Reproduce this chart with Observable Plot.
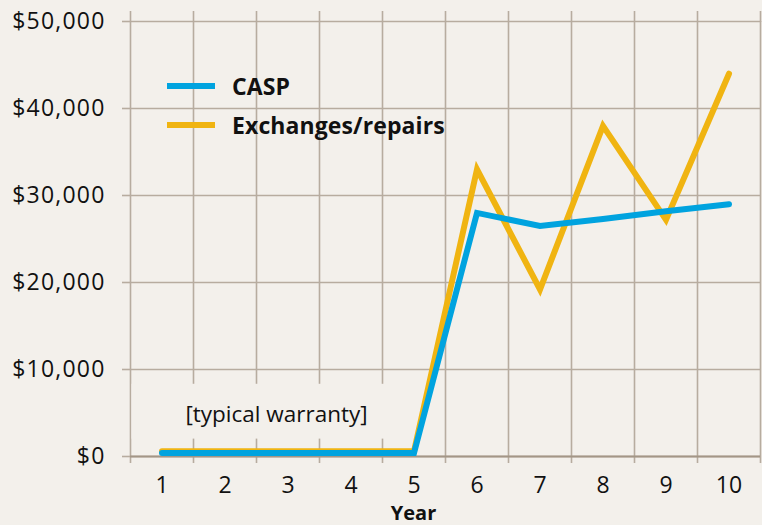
<!DOCTYPE html>
<html>
<head>
<meta charset="utf-8">
<script src="https://cdn.jsdelivr.net/npm/d3@7"></script>
<script src="https://cdn.jsdelivr.net/npm/@observablehq/plot@0.6"></script>
<style>
  html, body { margin: 0; padding: 0; background: #f3f0eb; }
  #wrap { position: relative; width: 762px; height: 525px; font-family: "Open Sans", sans-serif; }
  #legend { position: absolute; left: 167px; top: 66px; }
  .item { display: flex; align-items: center; height: 39px; }
  .swatch { width: 48px; height: 6px; margin-right: 17px; }
  .lab { font-weight: bold; font-size: 23px; color: #111; letter-spacing: 0.1px; }
  [aria-label="y-axis tick label"] text { letter-spacing: 1.2px; }
</style>
</head>
<body>
<div id="wrap"></div>
<script>
const years = [1, 2, 3, 4, 5, 6, 7, 8, 9, 10];
const casp = [400, 400, 400, 400, 400, 28000, 26500, 27300, 28200, 29000];
const exchanges = [600, 600, 600, 600, 600, 33000, 19200, 38000, 27200, 44000];
const seriesNames = ["CASP", "Exchanges/repairs"];
const seriesColors = ["#00a3df", "#f0b411"];
const yTicks = [0, 10000, 20000, 30000, 40000, 50000];
const warrantyLabel = "[typical warranty]";
const warrantyYears = [1, 4];
const xLabel = "Year";

const bg = "#f3f0eb";
const gridColor = "#b7ac9f";

const rows = [];
years.forEach((yr, i) => {
  rows.push({year: yr, value: casp[i], series: seriesNames[0]});
  rows.push({year: yr, value: exchanges[i], series: seriesNames[1]});
});
const boundaries = d3.range(years[0] - 0.5, years[years.length - 1] + 1, 1);
const fmt = v => "$" + d3.format(",")(v);

const chart = Plot.plot({
  width: 762,
  height: 525,
  marginLeft: 130,
  marginRight: 2,
  marginTop: 21,
  marginBottom: 69,
  style: {background: bg, fontFamily: "Open Sans, sans-serif", fontSize: "23px", color: "#111"},
  x: {domain: [years[0] - 0.5, years[years.length - 1] + 0.5]},
  y: {domain: [0, yTicks[yTicks.length - 1]]},
  color: {domain: seriesNames, range: seriesColors},
  marks: [
    Plot.gridX(boundaries, {stroke: gridColor, strokeOpacity: 1, strokeWidth: 1.6}),
    Plot.gridY(yTicks, {stroke: gridColor, strokeOpacity: 1, strokeWidth: 1.6}),
    Plot.axisX(boundaries, {anchor: "bottom", tickSize: 7, text: null, stroke: gridColor, strokeWidth: 1.6, label: null}),
    Plot.axisX(boundaries, {anchor: "top", tickSize: 11, text: null, stroke: gridColor, strokeWidth: 1.6, label: null}),
    Plot.axisX(years, {anchor: "bottom", tickSize: 0, tickPadding: 20, label: null, fontSize: 23}),
    Plot.axisY(yTicks, {anchor: "left", tickSize: 8, tickPadding: 17, stroke: gridColor, strokeWidth: 1.6, tickFormat: fmt, label: null, fontSize: 23}),
    Plot.ruleY([0], {stroke: "#a39686", strokeWidth: 1.8}),
    Plot.rect([{a: warrantyYears[0] - 0.5, b: warrantyYears[1] + 0.5}], {x1: "a", x2: "b", y1: 2000, y2: 8300, fill: bg, insetLeft: 1.5, insetRight: -2}),
    Plot.text([warrantyLabel], {x: (warrantyYears[0] + warrantyYears[1]) / 2, y: 4850, dx: 20, text: d => d, fontSize: 22.5, fill: "#111", textAnchor: "middle"}),
    Plot.line(rows.filter(d => d.series === seriesNames[1]), {x: "year", y: "value", stroke: "series", strokeWidth: 6, strokeLinejoin: "miter", strokeMiterlimit: 10}),
    Plot.line(rows.filter(d => d.series === seriesNames[0]), {x: "year", y: "value", stroke: "series", strokeWidth: 6, strokeLinejoin: "miter", strokeMiterlimit: 10}),
    Plot.text([xLabel], {frameAnchor: "bottom", text: d => d, dx: -32, dy: 63, fontWeight: "bold", fontSize: 20, fill: "#111"})
  ]
});

const wrap = document.getElementById("wrap");
wrap.appendChild(chart);
const legend = document.createElement("div");
legend.id = "legend";
seriesNames.forEach((name, i) => {
  const item = document.createElement("div");
  item.className = "item";
  const sw = document.createElement("div");
  sw.className = "swatch";
  sw.style.background = seriesColors[i];
  const lab = document.createElement("span");
  lab.className = "lab";
  lab.textContent = name;
  item.appendChild(sw);
  item.appendChild(lab);
  legend.appendChild(item);
});
wrap.appendChild(legend);
</script>
</body>
</html>
